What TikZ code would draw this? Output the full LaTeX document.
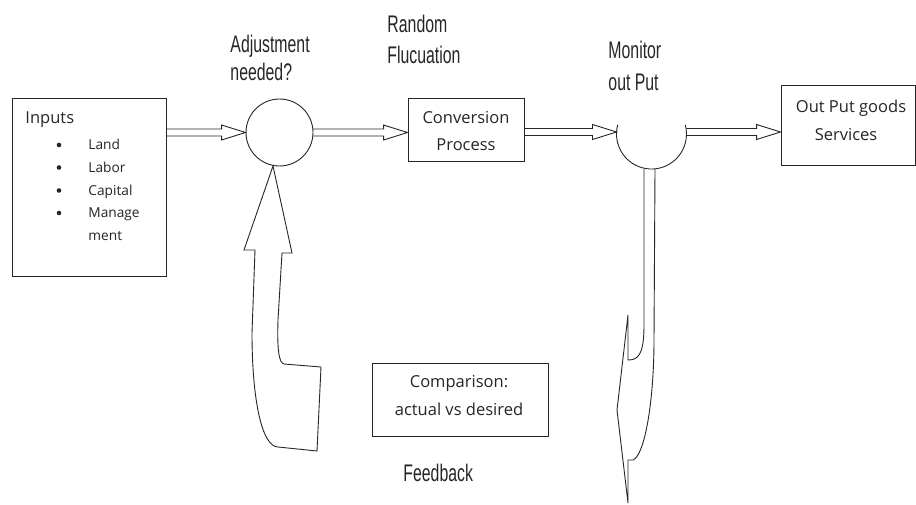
\documentclass[tikz,border=0pt]{standalone}
\usepackage{fontspec}
\setmainfont{Open Sans}
\newfontfamily\condfont[FakeStretch=0.66]{Liberation Sans}
\usetikzlibrary{calc}
\newcommand\hollowarrow[2]{%
  \draw[line join=miter] ($#1+(0,-3.5)$) -- ($#2+(-24,-3.5)$) -- ($#2+(-24,-7.5)$) -- #2
    -- ($#2+(-24,7.5)$) -- ($#2+(-24,3.5)$) -- ($#1+(0,3.5)$);}
\begin{document}
\begin{tikzpicture}[x=1pt,y=-1pt, line width=0.9pt, draw=black!85,
  box/.style={draw=black!85, inner sep=0},
  lbl/.style={font=\condfont\fontsize{24}{24}\selectfont, anchor=base west, inner sep=0, text=black!85},
  txt/.style={font=\fontsize{16.5}{16.5}\selectfont, anchor=base, inner sep=0, text=black!85},
  itm/.style={font=\fontsize{13.7}{13.7}\selectfont, anchor=base west, inner sep=0, text=black!85},
  dot/.style={fill=black!85}]
\useasboundingbox (0,0) rectangle (916,504);
\fill[white] (0,0) rectangle (916,504);

% boxes and circles
\node[box, minimum width=154pt, minimum height=178pt] (in) at (89,187) {};
\node[box, minimum width=116pt, minimum height=63pt] (conv) at (466,129.5) {};
\node[box, minimum width=134pt, minimum height=80pt] (out) at (848,125) {};
\node[box, minimum width=176pt, minimum height=73pt] (cmp) at (460,399.5) {};
\node[circle, draw=black!85, minimum size=67pt, inner sep=0] (adj) at (279.5,132.5) {};
\coordinate (mon) at (651.5,134);
\coordinate (monW) at (616.5,132);
\coordinate (monE) at (686.3,132);
\draw (mon) ++(165:35pt) arc[start angle=165, end angle=375, radius=35pt];

% box texts
\node[txt, anchor=base west] (tin) at (25,123) {Inputs};
\foreach \t/\y [count=\i] in {Land/149.5, Labor/172, Capital/195, Manage/217.5} {
  \fill[dot] (59,\y-4.5) circle (2.3pt);
  \node[itm] (item\i) at (88,\y) {\t};
}
\node[itm] (item5) at (88,240) {ment};
\node[txt] (tconv1) at (466,123) {Conversion};
\node[txt] (tconv2) at (466,150) {Process};
\node[txt] (tout1) at (851,112) {Out Put goods};
\node[txt] (tout2) at (846,140) {Services};
\node[txt] (tcmp1) at (459,387) {Comparison:};
\node[txt] (tcmp2) at (459,415) {actual vs desired};

% labels
\node[lbl] (l1) at (230,52) {Adjustment};
\node[lbl] (l2) at (230,80) {needed?};
\node[lbl] (l3) at (387,32) {Random};
\node[lbl] (l4) at (387,63) {Flucuation};
\node[lbl] (l5) at (608,58) {Monitor};
\node[lbl] (l6) at (608,90) {out Put};
\node[lbl] (l7) at (403,481) {Feedback};

% forward arrows
\hollowarrow{(in.east |- adj.west)}{(adj.west)}
\hollowarrow{(adj.east)}{(conv.west |- adj.east)}
\hollowarrow{(conv.east |- monW)}{(monW)}
\hollowarrow{(monE)}{(out.west |- monE)}

% feedback block arrows
\draw[line join=miter] (273,166) -- (292,253) -- (282,253) -- (278,320)
  .. controls (277,350) and (279,363) .. (284,364) -- (321,367) -- (317,451) -- (278,447)
  .. controls (262,447) and (252,400) .. (252,333) -- (255,250) -- (244,250) -- cycle;
\draw[line join=miter] (644,169) -- (644,325) .. controls (644,355) and (638,360) .. (628,360)
  -- (628,315) -- (617,410) -- (628,503) -- (628,460) -- (633,460)
  .. controls (645,455) and (654,400) .. (654,340) -- (655,169);
\end{tikzpicture}
\end{document}
